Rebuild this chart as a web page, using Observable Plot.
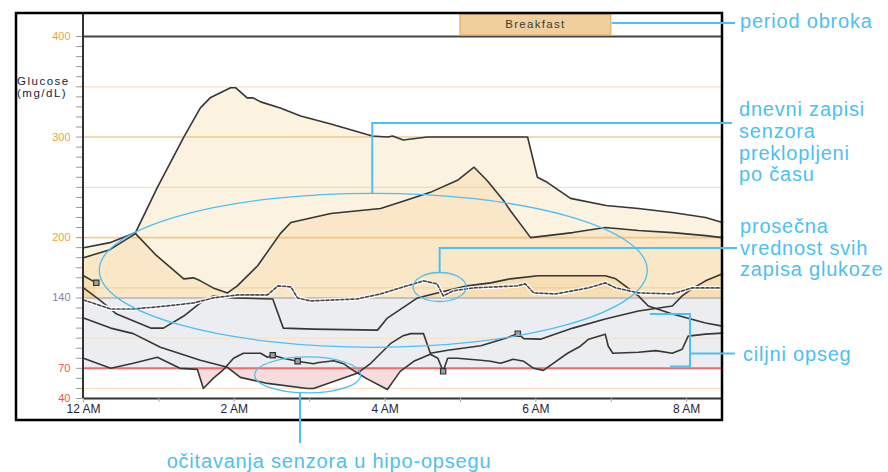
<!DOCTYPE html>
<html><head><meta charset="utf-8">
<script src="https://cdn.jsdelivr.net/npm/d3@7"></script>
<script src="https://cdn.jsdelivr.net/npm/@observablehq/plot@0.6"></script>
<style>
body{margin:0;background:#fff;}
#chart svg{display:block;overflow:visible}
g[aria-label="x-labels"] text{letter-spacing:1px}
g[aria-label="y-labels"] text{letter-spacing:1.3px}
</style></head><body><div id="chart"></div>
<script>
// ---------- data (hours after midnight, glucose mg/dL) ----------
const hours1 = [0, 0.35, 0.69, 0.98, 1.33, 1.55, 1.68, 1.95, 2.02, 2.17, 2.25, 2.35, 2.61, 2.88, 3.28, 3.83, 4.03, 4.10, 4.24, 4.56, 5.89, 6.02, 6.15, 6.46, 6.93, 7.36, 7.81, 8.25, 8.475];
const glucose1 = [190, 195, 205, 250, 300, 329, 339, 349, 349, 339, 339, 335, 329, 321, 313, 301, 300, 301, 297, 300, 300, 260, 255, 239, 232, 229, 225, 220, 215];

const hours2 = [0, 0.35, 0.69, 0.97, 1.33, 1.46, 1.55, 1.72, 1.91, 2.04, 2.31, 2.61, 2.75, 3.28, 3.94, 4.27, 4.60, 4.96, 5.18, 5.35, 5.57, 5.66, 5.93, 6.49, 6.92, 7.36, 7.81, 8.25, 8.475];
const glucose2 = [180, 188, 204, 182, 159, 160, 157, 150, 145, 152, 172, 204, 215, 224, 229, 237, 245, 257, 270, 257, 237, 227, 200, 205, 210, 207, 205, 202, 200];

const hours3 = [0, 0.23, 0.44, 0.89, 1.06, 1.33, 1.55, 1.72, 2.00, 2.51, 2.65, 3.05, 3.90, 4.03, 4.43, 4.69, 5.09, 5.40, 5.66, 6.03, 6.92, 7.06, 7.36, 7.49, 7.81, 8.25, 8.475];
const glucose3 = [150, 137, 124, 110, 110, 122, 135, 142, 140, 139, 110, 109, 108, 120, 140, 145, 152, 155, 159, 162, 162, 159, 142, 132, 124, 115, 112];

const hours4 = [0, 0.17];
const glucose4 = [162, 155];

const hours5 = [0, 0.36, 0.66, 1.02, 1.55, 1.91, 2.08, 2.44, 2.97, 3.05, 3.63, 3.81, 4.07, 4.24, 4.34, 4.51, 4.60, 4.83, 5.27, 5.62, 5.76, 5.84, 6.06, 6.49, 6.92, 7.36, 7.81, 7.94, 8.07, 8.25, 8.475];
const glucose5 = [120, 110, 104.5, 91, 78, 71, 61, 55, 50, 50, 65, 75, 94.5, 102.5, 104.5, 104.5, 85, 88, 92.5, 100.5, 104.5, 99.5, 99, 110, 119, 127, 132, 142, 149, 157, 164];

const hours6 = [0, 0.36, 0.66, 0.98, 1.28, 1.51, 1.59, 1.72, 1.86, 1.99, 2.12, 2.35, 2.44, 2.51, 2.65, 2.84, 3.05, 3.10, 3.32, 3.45, 3.54, 3.75, 4.03, 4.20, 4.38, 4.60, 4.70, 4.77, 4.83, 4.96, 5.27, 5.40, 5.53, 5.70, 5.84, 5.97, 6.10, 6.23, 6.42, 6.59, 6.70, 6.92, 6.96, 7.02, 7.36, 7.59, 7.81, 7.94, 8.02, 8.25, 8.475];
const glucose6 = [80, 70, 75, 81, 70, 69, 50, 60, 69, 80, 85, 85, 81, 83, 80, 77, 74.6, 75.6, 77.6, 74.6, 69.7, 60, 49, 67, 77, 84, 80, 67, 80, 80, 78, 77, 75, 79, 77, 70, 68, 75, 85, 92, 99, 104, 92, 85, 86, 87.6, 85, 89, 102, 104, 105];

const avgHours = [0, 0.36, 0.66, 1.10, 1.46, 1.72, 2.04, 2.44, 2.58, 2.75, 2.84, 3.01, 3.63, 3.94, 4.20, 4.51, 4.69, 4.77, 4.90, 5.17, 5.75, 5.86, 5.97, 6.26, 6.70, 6.92, 7.06, 7.36, 7.81, 8.07, 8.475];
const avgGlucose = [138, 129, 129, 132, 135, 140, 143, 143, 152, 151, 140, 137, 139, 144, 150, 157, 154, 142, 147, 150, 152, 154, 145, 144, 150, 155, 150, 145, 144, 150, 150];

const markerHours = [0.17, 2.51, 2.84, 4.77, 5.76];
const markerGlucose = [155, 83, 77, 67, 104.5];

const mealNames = ["Breakfast"];
const mealStart = [5];
const mealEnd = [7];

const xTickHours = [0, 2, 4, 6, 8];
const xTickLabels = ["12 AM", "2 AM", "4 AM", "6 AM", "8 AM"];
const yTickValues = [400, 300, 200, 140, 70, 40];
const gridValues = [50, 100, 150, 200, 250, 300, 350];
const majorGrid = [200, 300];
const targetLow = 70, targetHigh = 140;
const xDomain = [0, 8.475];
const yDomain = [40, 400];

// ---------- tables ----------
const traceList = [
  ["d1", hours1, glucose1], ["d2", hours2, glucose2], ["d3", hours3, glucose3],
  ["d4", hours4, glucose4], ["d5", hours5, glucose5], ["d6", hours6, glucose6]
];
const traces = traceList.map(([id, hs, gs]) => ({id, pts: hs.map((h, i) => ({id, h, g: gs[i]}))}));
const traceRows = traces.flatMap(t => t.pts);
const avgRows = avgHours.map((h, i) => ({h, g: avgGlucose[i]}));
const markerRows = markerHours.map((h, i) => ({h, g: markerGlucose[i]}));

// split a trace into the parts beyond a threshold (crossing points added so fills meet the line)
function beyond(pts, thr, above, key) {
  const out = []; let seg = null, n = 0;
  const inside = p => above ? p.g >= thr : p.g <= thr;
  pts.forEach((p, i) => {
    if (i > 0) {
      const q = pts[i - 1];
      if (inside(p) !== inside(q)) {
        const t = (thr - q.g) / (p.g - q.g);
        const c = {h: q.h + t * (p.h - q.h), g: thr};
        if (seg) { seg.push(c); seg.forEach(s => s.seg = key + "-" + n); out.push(...seg); seg = null; n++; }
        else seg = [c];
      }
    }
    if (inside(p)) { if (!seg) seg = []; seg.push(p); }
  });
  if (seg) { seg.forEach(s => s.seg = key + "-" + n); out.push(...seg); }
  return out.map(d => ({...d}));
}
const highRows = traces.flatMap(t => beyond(t.pts.map(p => ({...p})), targetHigh, true, t.id));
const lowRows = traces.flatMap(t => beyond(t.pts.map(p => ({...p})), targetLow, false, t.id));

const font = "'Liberation Sans', Arial, Helvetica, sans-serif";

const plot = Plot.plot({
  width: 888, height: 472,
  marginLeft: 83, marginRight: 166, marginTop: 36, marginBottom: 74,
  x: {domain: xDomain, axis: null},
  y: {domain: yDomain, axis: null},
  style: {fontFamily: font, background: "white", overflow: "visible"},
  marks: [
    Plot.rect([[targetLow, targetHigh]], {y1: d => d[0], y2: d => d[1], fill: "#ecedf0"}),
    Plot.ruleY(gridValues, {stroke: d => majorGrid.includes(d) ? "#f1cd96" : "#f6e2c6", strokeWidth: d => majorGrid.includes(d) ? 1.6 : 1.3}),
    Plot.areaY(highRows, {x: "h", y1: targetHigh, y2: "g", z: "seg", fill: "rgb(238,190,100)", fillOpacity: 0.2}),
    Plot.areaY(lowRows, {x: "h", y1: targetLow, y2: "g", z: "seg", fill: "rgb(210,80,85)", fillOpacity: 0.2}),
    Plot.ruleY([targetHigh], {stroke: "#c2c2c4", strokeWidth: 2}),
    Plot.ruleY([targetLow], {stroke: "#f36a6a", strokeWidth: 2}),
    Plot.ruleY([yDomain[1]], {stroke: "#444", strokeWidth: 2}),
    Plot.line(traceRows, {x: "h", y: "g", z: "id", stroke: "#363636", strokeWidth: 1.6}),
    Plot.line(avgRows, {x: "h", y: "g", stroke: "white", strokeWidth: 4}),
    Plot.line(avgRows, {x: "h", y: "g", stroke: "#4a4a4a", strokeWidth: 1.7, strokeDasharray: "3 2"}),
    Plot.dot(markerRows, {x: "h", y: "g", symbol: "square", r: 3, fill: "#a0a0a0", stroke: "#333", strokeWidth: 1.2}),
    Plot.ruleY([yDomain[0]], {stroke: "#333", strokeWidth: 2}),
    Plot.axisY({ticks: d3.range(40, 401, 10), tickSize: 7, tickFormat: () => "", label: null, stroke: "#9b9b9b"}),
    Plot.axisX({ticks: d3.range(0, 9), tickSize: 4, tickFormat: () => "", label: null, stroke: "#aaa"}),
    Plot.text(yTickValues, {y: d => d, frameAnchor: "left", dx: -13, textAnchor: "end", fontSize: 11, ariaLabel: "y-labels",
      fill: d => d >= 200 ? "#eda53a" : d === targetHigh ? "#8a80a6" : "#f5504f"}),
    Plot.text(xTickHours, {x: d => d, text: (d, i) => xTickLabels[i], frameAnchor: "bottom", dy: 14, fontSize: 12, fill: "#1f1f38", ariaLabel: "x-labels"})
  ]
});
document.getElementById("chart").append(plot);

// ---------- frame, meal band, axis label, annotations ----------
const X = plot.scale("x"), Y = plot.scale("y");
const svg = d3.select(plot);
const xL = X.range[0], xR = X.range[1];
const yB = Y.range[0], yT = Y.range[1];
const frameTop = yT - 23, frameLeft = xL - 67, frameBottom = yB + 22;

const meal = svg.append("g");
mealNames.forEach((name, i) => {
  const a = X.apply(mealStart[i]), b = X.apply(mealEnd[i]);
  meal.append("rect").attr("x", a).attr("y", frameTop + 1).attr("width", b - a).attr("height", yT - frameTop - 2)
    .attr("fill", "#f1cf9d").attr("stroke", "#e3ad62").attr("stroke-width", 1.2);
  meal.append("text").attr("x", (a + b) / 2).attr("y", frameTop + 14.7).attr("text-anchor", "middle")
    .attr("font-family", font).attr("font-size", 11.5).attr("fill", "#3a3a3a").style("letter-spacing", "1.3px").text(name);
});

svg.append("line").attr("x1", xL).attr("x2", xL).attr("y1", frameTop).attr("y2", yB).attr("stroke", "#333").attr("stroke-width", 2);

const ylab = svg.append("g").attr("font-family", font).attr("font-size", 11.5).attr("fill", "#22223a")
  .attr("text-anchor", "start").style("letter-spacing", "1.5px");
ylab.append("text").attr("x", frameLeft + 1).attr("y", 85).text("Glucose");
ylab.append("text").attr("x", frameLeft + 1).attr("y", 97).text("(mg/dL)");

svg.append("rect").attr("x", frameLeft).attr("y", frameTop).attr("width", xR - frameLeft).attr("height", frameBottom - frameTop)
  .attr("fill", "none").attr("stroke", "#000").attr("stroke-width", 2.5);

const blue = "#4dbff2";
const ann = svg.append("g").attr("fill", "none").attr("stroke", blue);
// meal period callout
ann.append("line").attr("x1", X.apply(mealEnd[0]) + 1).attr("x2", xR + 13).attr("y1", frameTop + 10).attr("y2", frameTop + 10).attr("stroke-width", 2);
// daily traces ellipse
const e1 = {cx: X.apply(3.85), cy: Y.apply(167), rx: 274, ry: 77};
ann.append("ellipse").attr("cx", e1.cx).attr("cy", e1.cy).attr("rx", e1.rx).attr("ry", e1.ry).attr("stroke-width", 1.3);
ann.append("polyline").attr("points", [[e1.cx - 1, e1.cy - e1.ry], [e1.cx - 1, 123], [xR + 10, 123]].join(" ")).attr("stroke-width", 2);
// average ellipse
const e2 = {cx: X.apply(4.73), cy: Y.apply(150.4), rx: 26.5, ry: 14.5};
ann.append("ellipse").attr("cx", e2.cx).attr("cy", e2.cy).attr("rx", e2.rx).attr("ry", e2.ry).attr("stroke-width", 1.3);
ann.append("polyline").attr("points", [[e2.cx, e2.cy - e2.ry], [e2.cx, 248], [xR + 15, 248]].join(" ")).attr("stroke-width", 2);
// target range bracket
ann.append("polyline").attr("points", [[650, 314], [690, 314], [690, 366.5], [670, 366.5]].join(" ")).attr("stroke-width", 2);
ann.append("line").attr("x1", 690).attr("x2", xR + 13).attr("y1", 353.5).attr("y2", 353.5).attr("stroke-width", 2);
// hypo ellipse
const e3 = {cx: X.apply(2.98), cy: Y.apply(62.9), rx: 53, ry: 18};
ann.append("ellipse").attr("cx", e3.cx).attr("cy", e3.cy).attr("rx", e3.rx).attr("ry", e3.ry).attr("stroke-width", 1.3);
ann.append("line").attr("x1", 300).attr("x2", 300).attr("y1", e3.cy + e3.ry - 0.5).attr("y2", 443).attr("stroke-width", 2);

const at = svg.append("g").attr("font-family", font).attr("font-size", 20).attr("fill", blue)
  .attr("text-anchor", "start").style("letter-spacing", "0.8px");
const tx = xR + 18;
at.append("text").attr("x", tx).attr("y", 28).text("period obroka");
[["dnevni zapisi", 116], ["senzora", 138], ["preklopljeni", 159.5], ["po času", 181]].forEach(([t, y]) => at.append("text").attr("x", tx - 1).attr("y", y).text(t));
[["prosečna", 233], ["vrednost svih", 254.5], ["zapisa glukoze", 276]].forEach(([t, y]) => at.append("text").attr("x", tx).attr("y", y).text(t));
at.append("text").attr("x", tx + 3).attr("y", 360.5).text("ciljni opseg");
at.append("text").attr("x", 329).attr("y", 468).attr("text-anchor", "middle").text("očitavanja senzora u hipo-opsegu");
</script></body></html>
